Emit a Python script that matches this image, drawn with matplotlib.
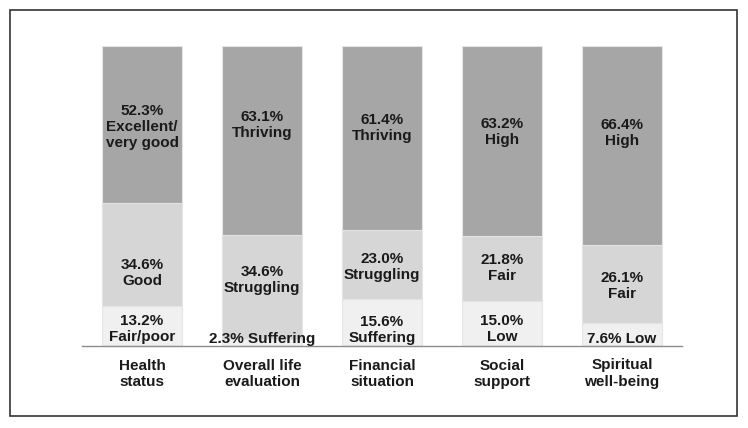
import matplotlib
matplotlib.use("Agg")
import matplotlib.pyplot as plt
from matplotlib.patches import Rectangle

plt.rcParams['font.family'] = ['Liberation Sans', 'DejaVu Sans']

# Data
categories = ['Health\nstatus', 'Overall life\nevaluation', 'Financial\nsituation',
              'Social\nsupport', 'Spiritual\nwell-being']
bottom_vals = [13.2, 2.3, 15.6, 15.0, 7.6]
middle_vals = [34.6, 34.6, 23.0, 21.8, 26.1]
top_vals = [52.3, 63.1, 61.4, 63.2, 66.4]

bottom_labels = ['13.2%\nFair/poor', '2.3% Suffering', '15.6%\nSuffering', '15.0%\nLow', '7.6% Low']
middle_labels = ['34.6%\nGood', '34.6%\nStruggling', '23.0%\nStruggling', '21.8%\nFair', '26.1%\nFair']
top_labels = ['52.3%\nExcellent/\nvery good', '63.1%\nThriving', '61.4%\nThriving', '63.2%\nHigh', '66.4%\nHigh']

# label heights (in % units), as placed in the original
bottom_label_y = [5.7, 2.3, 5.3, 5.7, 2.3]
middle_label_y = [24.3, 22.0, 26.3, 26.0, 20.0]
top_label_y = [73.0, 73.7, 72.7, 71.3, 71.0]

fig = plt.figure(figsize=(7.48, 4.28), dpi=100)
ax = fig.add_axes([82/748, 82/428, 600/748, 300/428])

x = range(len(categories))
w = 0.667
edge = '#e4e4e4'
mid_base = [b for b in bottom_vals]
top_base = [b + m for b, m in zip(bottom_vals, middle_vals)]
ax.bar(x, bottom_vals, w, color='#f0f0f0', edgecolor=edge, linewidth=0.8)
ax.bar(x, middle_vals, w, bottom=mid_base, color='#d6d6d6', edgecolor=edge, linewidth=0.8)
ax.bar(x, top_vals, w, bottom=top_base, color='#a6a6a6', edgecolor=edge, linewidth=0.8)

tk = dict(ha='center', va='center', fontsize=11, fontweight='bold', color='#1a1a1a', linespacing=1.2)
for i in x:
    ax.text(i, bottom_label_y[i], bottom_labels[i], **tk)
    ax.text(i, middle_label_y[i], middle_labels[i], **tk)
    ax.text(i, top_label_y[i], top_labels[i], **tk)

ax.set_xlim(-0.5, len(categories) - 0.5)
ax.set_ylim(0, 100)
ax.set_yticks([])
ax.set_xticks(list(x))
ax.set_xticklabels(categories, fontsize=11, fontweight='bold', color='#1a1a1a', linespacing=1.2)
ax.tick_params(axis='x', length=0, pad=9)
for s in ['top', 'left', 'right']:
    ax.spines[s].set_visible(False)
ax.spines['bottom'].set_color('#8c8c8c')
ax.spines['bottom'].set_linewidth(1)
ax.set_zorder(1)

# outer frame
fig.patches.append(Rectangle((10/748, 12/428), 727/748, 406/428, transform=fig.transFigure,
                             fill=False, edgecolor='#333333', linewidth=1.2))

fig.savefig('out.png', dpi=100)
